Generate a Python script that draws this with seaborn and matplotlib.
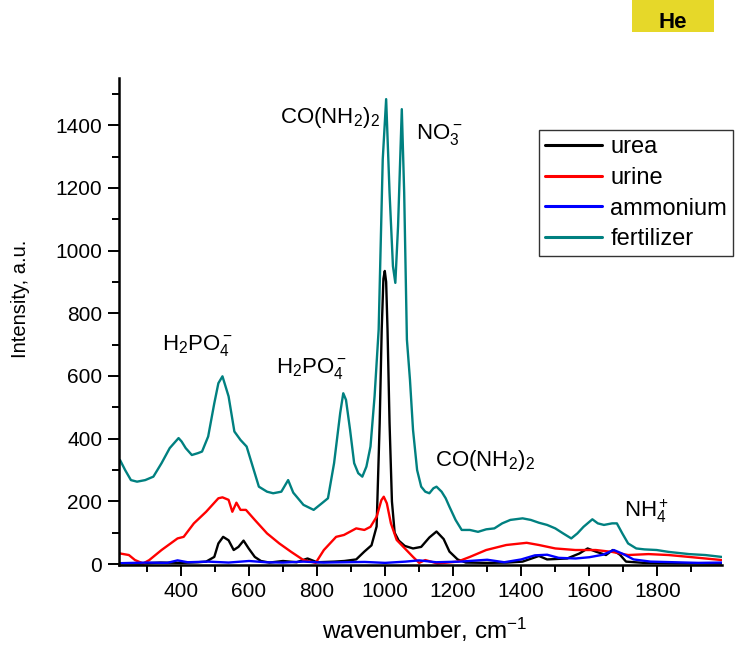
import matplotlib
matplotlib.use('Agg')
import matplotlib.pyplot as plt
from matplotlib.patches import Rectangle
import numpy as np
import pandas as pd
import seaborn as sns

# spectra (wavenumber, intensity)
fert_x = [221, 236, 253, 271, 295, 319, 343, 367, 393, 402, 414, 432, 450, 462,
          480, 498, 510, 522, 540, 557, 575, 593, 611, 629, 653, 671, 695, 715,
          730, 760, 790, 814, 832, 850, 868, 877, 885, 897, 909, 921, 933, 945,
          957, 969, 981, 993, 1003, 1013, 1023, 1030, 1038, 1049, 1056, 1064,
          1073, 1082, 1094, 1106, 1118, 1130, 1142, 1151, 1166, 1178, 1189,
          1207, 1225, 1249, 1273, 1297, 1321, 1344, 1368, 1404, 1428, 1452,
          1476, 1500, 1523, 1547, 1565, 1583, 1609, 1625, 1643, 1667, 1681,
          1697, 1714, 1738, 1762, 1798, 1833, 1893, 1941, 1989]
fert_y = [332, 300, 268, 263, 268, 279, 322, 370, 402, 391, 370, 348, 354, 359,
          407, 513, 577, 599, 535, 423, 396, 375, 311, 247, 231, 226, 231, 268,
          228, 189, 173, 194, 210, 322, 482, 545, 524, 428, 322, 290, 279, 311,
          375, 535, 748, 1291, 1483, 1185, 950, 897, 1078, 1451, 1185, 716,
          588, 428, 300, 247, 231, 226, 242, 247, 231, 210, 183,
          141, 109, 109, 103, 111, 114, 130, 141, 146, 141, 132,
          125, 114, 98, 82, 98, 119, 143, 130, 125, 130, 130,
          98, 66, 50, 47, 45, 39, 32, 29, 23]

urea_x = [220, 280, 340, 400, 450, 474, 498, 510, 524, 540, 555, 569, 584, 599,
          617, 635, 660, 700, 740, 772, 800, 850, 880, 915, 939, 960, 975, 984,
          990, 995, 999, 1003, 1007, 1013, 1020, 1028, 1040, 1058, 1082, 1106,
          1130, 1151, 1172, 1189, 1213, 1237, 1300, 1360, 1404, 1452, 1476,
          1535, 1571, 1595, 1619, 1649, 1669, 1690, 1708, 1760, 1850, 1989]
urea_y = [3, 2, 5, 4, 6, 8, 23, 66, 87, 76, 45, 55, 75, 50,
          23, 10, 5, 10, 6, 18, 6, 8, 10, 15, 40, 60, 120, 450,
          750, 910, 935, 900, 750, 450, 200, 100, 75, 58, 50, 55,
          85, 104, 80, 40, 15, 5, 4, 5, 8, 26, 15,
          18, 34, 50, 40, 29, 45, 30, 8, 4, 3, 2]

urine_x = [221, 247, 265, 289, 307, 343, 390, 408, 438, 474, 510, 522, 540, 551,
           563, 575, 591, 617, 653, 689, 724, 760, 796, 820, 856, 879, 915, 939,
           957, 975, 989, 996, 1005, 1017, 1034, 1058, 1082, 1100, 1118, 1154,
           1213, 1249, 1297, 1356, 1416, 1452, 1500, 1559, 1619, 1667, 1714,
           1774, 1833, 1893, 1989]
urine_y = [34, 29, 13, 2, 13, 45, 82, 87, 130, 167, 210, 213, 205, 167,
           196, 173, 173, 141, 98, 66, 39, 13, 4, 45, 87, 93, 114, 109,
           119, 151, 204, 215, 194, 130, 77, 50, 23, 4, 13, 2,
           8, 23, 45, 61, 68, 61, 50, 45, 45, 39, 29,
           32, 29, 23, 13]

amm_x = [220, 300, 360, 390, 420, 480, 540, 600, 650, 700, 760, 820, 880, 940,
         1000, 1060, 1100, 1150, 1220, 1300, 1350, 1400, 1440, 1476, 1510,
         1560, 1600, 1640, 1672, 1700, 1730, 1780, 1850, 1920, 1989]
amm_y = [3, 5, 4, 12, 6, 8, 5, 10, 6, 5, 8, 5, 6, 7,
         4, 8, 12, 6, 8, 14, 6, 15, 28, 30, 20,
         18, 22, 30, 45, 32, 15, 8, 6, 4, 5]

series = ['urea', 'urine', 'ammonium', 'fertilizer']
colors = ['#000000', '#ff0000', '#0000ff', '#008080']

sns.set_style('ticks')
plt.rcParams['font.family'] = ['Liberation Sans', 'DejaVu Sans']
plt.rcParams['mathtext.fontset'] = 'custom'
plt.rcParams['mathtext.rm'] = 'Liberation Sans'
plt.rcParams['mathtext.it'] = 'Liberation Sans:italic'
plt.rcParams['mathtext.default'] = 'regular'
plt.rcParams['text.color'] = 'black'
plt.rcParams['axes.labelcolor'] = 'black'

frames = []
for name, xs, ys in [('urea', urea_x, urea_y), ('urine', urine_x, urine_y),
                     ('ammonium', amm_x, amm_y), ('fertilizer', fert_x, fert_y)]:
    frames.append(pd.DataFrame({'wavenumber': xs, 'intensity': ys, 'sample': name}))
df = pd.concat(frames, ignore_index=True)

fig = plt.figure(figsize=(7.36, 6.51), dpi=100)
ax = fig.add_axes([0.1617, 0.132, 0.8193, 0.748])

sns.lineplot(data=df, x='wavenumber', y='intensity', hue='sample',
             hue_order=series, palette=dict(zip(series, colors)),
             estimator=None, lw=1.7, ax=ax)

ax.set_xlim(218, 1990)
ax.set_ylim(-3, 1550)
ax.set_xticks(np.arange(400, 1801, 200))
ax.set_xticks(np.arange(300, 1901, 100), minor=True)
ax.set_yticks(np.arange(0, 1401, 200))
ax.set_yticks(np.arange(100, 1501, 100), minor=True)
ax.tick_params(which='major', direction='out', length=8, width=1.4, labelsize=15,
               color='black', labelcolor='black', pad=4)
ax.tick_params(which='minor', direction='out', length=5, width=1.4, color='black')
sns.despine(ax=ax)
for s in ['left', 'bottom']:
    ax.spines[s].set_linewidth(1.8)
    ax.spines[s].set_color('black')

ax.set_xlabel('wavenumber, cm$^{-1}$', fontsize=17.5)
ax.set_ylabel('Intensity, a.u.', fontsize=14.5)
ax.xaxis.set_label_coords(0.507, -0.105)
ax.yaxis.set_label_coords(-0.147, 0.546)

ann = dict(fontsize=16, va='baseline', ha='left')
ax.text(692, 1408, 'CO(NH$_2$)$_2$', **ann)
ax.text(1092, 1357, 'NO$_3^-$', **ann)
ax.text(345, 682, 'H$_2$PO$_4^-$', **ann)
ax.text(680, 609, 'H$_2$PO$_4^-$', **ann)
ax.text(1148, 313, 'CO(NH$_2$)$_2$', **ann)
ax.text(1702, 151, 'NH$_4^+$', **ann)

leg = ax.legend(loc='upper right', bbox_to_anchor=(1.018, 0.893), fontsize=17,
                frameon=True, fancybox=False, handlelength=2.4, borderaxespad=0,
                borderpad=0.25, labelspacing=0.37, handletextpad=0.35)
leg.get_frame().set_edgecolor('black')
leg.get_frame().set_linewidth(1.0)
for line in leg.get_lines():
    line.set_linewidth(2.2)

# yellow "He" tag in the top corner
fig.add_artist(Rectangle((632 / 736, 1 - 32 / 651), 82 / 736, 32 / 651,
                         transform=fig.transFigure, facecolor='#e6d829',
                         edgecolor='none'))
fig.text(673 / 736, 1 - 22 / 651, 'He', fontsize=16, fontweight='bold',
         ha='center', va='center')

fig.savefig('out.png', dpi=100)
